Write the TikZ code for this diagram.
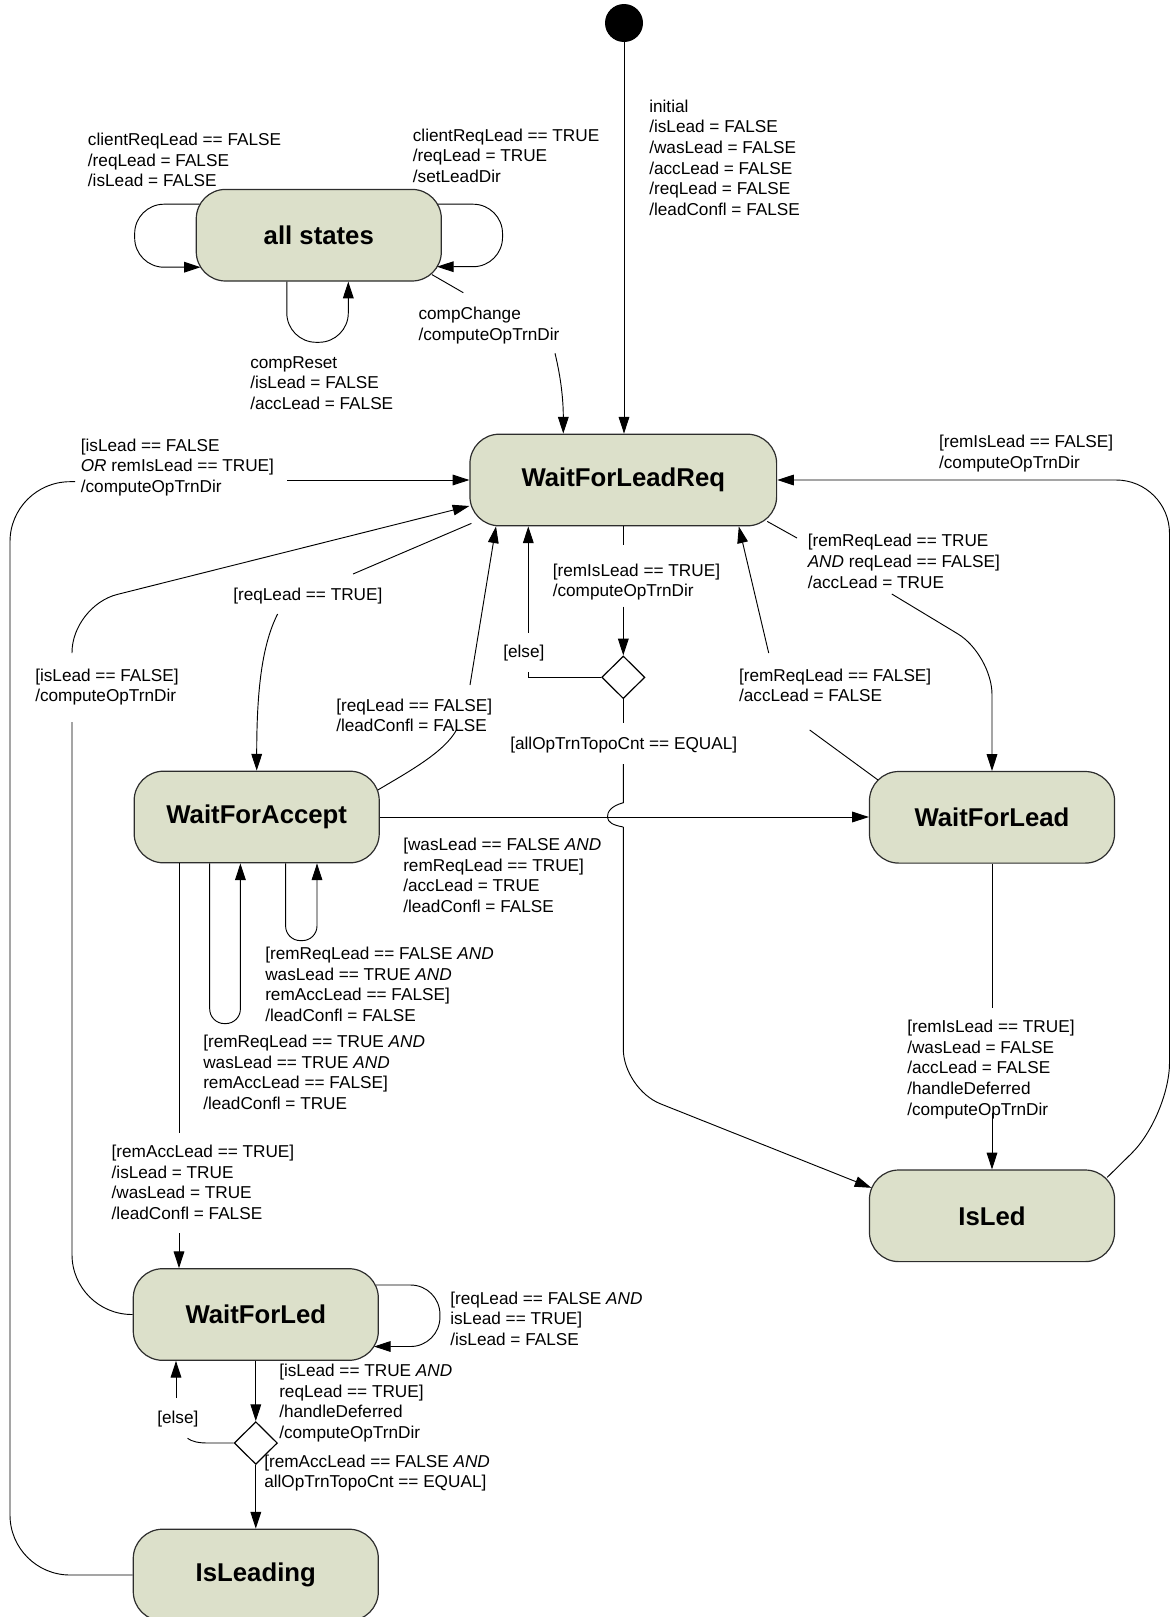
\documentclass[tikz,border=0pt]{standalone}
\usepackage{fontspec}
\setmainfont{Liberation Sans}
\usetikzlibrary{shapes.geometric, arrows.meta, positioning, calc}
\definecolor{statefill}{RGB}{220,224,202}
\definecolor{edgegray}{RGB}{45,45,45}

\begin{document}
\begin{tikzpicture}[
    x=0.75pt, y=-0.75pt,
    % Styles for the states
    state/.style={rectangle, rounded corners=22pt, draw=edgegray, fill=statefill, line width=0.9pt, minimum width=183.8pt, minimum height=68.7pt, inner sep=0pt, font=\fontsize{19.3}{23}\selectfont\bfseries},
    widestate/.style={state, minimum width=230pt},
    choice/.style={diamond, draw=black, fill=white, line width=0.9pt, minimum width=32.4pt, minimum height=32pt, inner sep=0pt},
    startdot/.style={circle, fill=black, minimum size=28.5pt, inner sep=0pt},
    % Styles for the connectors
    link/.style={line width=0.7pt, draw=black},
    trans/.style={link, -{Triangle[length=12.5pt, width=8pt]}},
    % Styles for the text
    guard/.style={anchor=north west, inner sep=0pt, align=left, font=\fontsize{12.9}{15.45}\selectfont}
]
\useasboundingbox (0,0) rectangle (1171,1617);

% === STATES ===
\node[startdot] (start) at (624,23) {};
\node[state] (allst) at (318.8,235.2) {all states};
\node[widestate] (wflr) at (623.3,480) {WaitForLeadReq};
\node[state] (wfacc) at (256.7,817) {WaitForAccept};
\node[state] (wflead) at (992,817.3) {WaitForLead};
\node[state] (isled) at (992,1215.8) {IsLed};
\node[state] (wfled) at (255.8,1314.5) {WaitForLed};
\node[state] (isleading) at (255.8,1575) {IsLeading};
\node[choice] (chk1) at (623.3,677.3) {};
\node[choice] (chk2) at (255.8,1443) {};

% === TRANSITION LABELS ===
\node[guard] (lblinit) at (649,99.5) {initial\\/isLead = FALSE\\/wasLead = FALSE\\/accLead = FALSE\\/reqLead = FALSE\\/leadConfl = FALSE};
\node[guard] (lblcrf) at (87.7,132.8) {clientReqLead == FALSE\\/reqLead = FALSE\\/isLead = FALSE};
\node[guard] (lblcrt) at (412.6,128.5) {clientReqLead == TRUE\\/reqLead = TRUE\\/setLeadDir};
\node[guard] (lblreset) at (250,356.2) {compReset\\/isLead = FALSE\\/accLead = FALSE};
\node[guard] (lblchange) at (418.3,306.8) {compChange\\/computeOpTrnDir};
\node[guard] (lblback) at (80.6,438.5) {[isLead == FALSE\\\textit{OR} remIsLead == TRUE]\\/computeOpTrnDir};
\node[guard] (lblremf) at (938.8,435.2) {[remIsLead == FALSE]\\/computeOpTrnDir};
\node[guard] (lblreqt) at (233,587.5) {[reqLead == TRUE]};
\node[guard] (lblislf) at (35,668.5) {[isLead == FALSE]\\/computeOpTrnDir};
\node[guard] (lblreqf) at (336,698.5) {[reqLead == FALSE]\\/leadConfl = FALSE};
\node[guard] (lblelse) at (503,645.2) {[else]};
\node[guard] (lblremt) at (552.5,563.5) {[remIsLead == TRUE]\\/computeOpTrnDir};
\node[guard] (lblequal) at (510,736.8) {[allOpTrnTopoCnt == EQUAL]};
\node[guard] (lblacc) at (807.5,534.2) {[remReqLead == TRUE\\\textit{AND} reqLead == FALSE]\\/accLead = TRUE};
\node[guard] (lblaccf) at (738.8,668.5) {[remReqLead == FALSE]\\/accLead = FALSE};
\node[guard] (lblwas) at (403,838) {[wasLead == FALSE \textit{AND}\\remReqLead == TRUE]\\/accLead = TRUE\\/leadConfl = FALSE};
\node[guard] (lblconff) at (265,947) {[remReqLead == FALSE \textit{AND}\\wasLead == TRUE \textit{AND}\\remAccLead == FALSE]\\/leadConfl = FALSE};
\node[guard] (lblconft) at (203,1034.7) {[remReqLead == TRUE \textit{AND}\\wasLead == TRUE \textit{AND}\\remAccLead == FALSE]\\/leadConfl = TRUE};
\node[guard] (lblremacc) at (111.4,1145) {[remAccLead == TRUE]\\/isLead = TRUE\\/wasLead = TRUE\\/leadConfl = FALSE};
\node[guard] (lblled) at (907,1020) {[remIsLead == TRUE]\\/wasLead = FALSE\\/accLead = FALSE\\/handleDeferred\\/computeOpTrnDir};
\node[guard] (lblkeep) at (450,1291.5) {[reqLead == FALSE \textit{AND}\\isLead == TRUE]\\/isLead = FALSE};
\node[guard] (lbldefer) at (279,1364) {[isLead == TRUE \textit{AND}\\reqLead == TRUE]\\/handleDeferred\\/computeOpTrnDir};
\node[guard] (lblelse2) at (157,1411) {[else]};
\node[guard] (lbllead) at (264,1454.5) {[remAccLead == FALSE \textit{AND}\\allOpTrnTopoCnt == EQUAL]};

% === BREAK POINTS OF THE CONNECTORS ===
\coordinate (cc1) at (463.3,292.7);
\coordinate (cc2) at (555,353.3);
\coordinate (bk1) at (75,481.7);
\coordinate (bk2) at (287,480);
\coordinate (rq1) at (353,574);
\coordinate (rq2) at (277.6,614);
\coordinate (il1) at (72,722);
\coordinate (il2) at (72,653);
\coordinate (rf1) at (457,729);
\coordinate (rf2) at (470,685);
\coordinate (el1) at (528.3,671.7);
\coordinate (el2) at (528.3,632.7);
\coordinate (ri1) at (623.3,545);
\coordinate (ri2) at (623.3,606.7);
\coordinate (eq1) at (623.3,723);
\coordinate (eq2) at (623.3,764);
\coordinate (hop1) at (623.3,802.7);
\coordinate (hop2) at (623.3,827);
\coordinate (ac1) at (797,538);
\coordinate (ac2) at (891.8,594);
\coordinate (af1) at (809.7,730);
\coordinate (af2) at (768.7,653);
\coordinate (ra1) at (179,1133);
\coordinate (ra2) at (179,1233);
\coordinate (ld1) at (992,1008);
\coordinate (ld2) at (992,1113);
\coordinate (es1) at (187.5,1438.3);
\coordinate (es2) at (176,1398);

% === ALL STATES ===
\draw[trans] (start) -- (start |- wflr.north);
\draw[trans, rounded corners=22pt] ($(allst.west)+(4,-31)$) -| ($(allst.west)+(-61,32)$) -- ($(allst.west)+(5,32)$);
\draw[trans, rounded corners=22pt] ($(allst.east)+(-4,-31)$) -| ($(allst.east)+(60.6,31.5)$) -- ($(allst.east)+(-5,31.5)$);
\draw[trans, rounded corners=22pt] ($(allst.south)+(-32,0)$) |- ($(allst.south)+(29.5,60.7)$) -- ($(allst.south)+(29.5,0)$);
\draw[link] ($(allst.south east)+(-10,-7)$) -- (cc1);
\draw[trans] (cc2) .. controls (561,378) and (563.3,400) .. ($(wflr.north)+(-60,0)$);

% === INTO WaitForLeadReq ===
\draw[link, rounded corners=45pt] (isleading.west) -| (10,481.7) -- (bk1);
\draw[trans] (bk2) -- (wflr.west);
\draw[trans, rounded corners=40pt] ($(isled.north east)+(-8,8)$) -- (1169.5,1116) -- (1169.5,480) -- (wflr.east);
\draw[link, rounded corners=45pt] (wfled.west) -| (il1);
\draw[trans, rounded corners=35pt] (il2) -- (72,605.8) -- ($(wflr.west)+(0,26)$);
\draw[link] ($(wfacc.east)+(-2,-27)$) .. controls (408,772) and (445,752) .. (rf1);
\draw[trans] (rf2) -- ($(wflr.south)+(-127.3,0)$);
\draw[link] (chk1.west) -| (el1);
\draw[trans] (el2) -- (el2 |- wflr.south);
\draw[link] ($(wflead.north west)+(9,9)$) -- (af1);
\draw[trans] (af2) -- ($(wflr.south)+(115.5,0)$);

% === OUT OF WaitForLeadReq ===
\draw[link] ($(wflr.south west)+(2,-3)$) -- (rq1);
\draw[trans] (rq2) .. controls (262,645) and (256.7,690) .. (wfacc.north);
\draw[link] (wflr.south) -- (ri1);
\draw[trans] (ri2) -- (chk1.north);
\draw[link] (chk1.south) -- (eq1);
\draw[link] (eq2) -- (hop1) .. controls (611,806) and (607,812) .. (607.5,817.3) .. controls (608,822) and (612,825) .. (hop2);
\draw[trans, rounded corners=30pt] (hop2) -- (623.3,1089) -- ($(isled.west)+(2.5,-28)$);
\draw[link] ($(wflr.south east)+(-10,-5)$) -- (ac1);
\draw[trans, rounded corners=30pt] (ac2) -- (992,654.5) -- (wflead.north);

% === WaitForAccept ===
\draw[trans] (wfacc.east) -- (wfacc.east -| wflead.west);
\draw[trans, rounded corners=11pt] ($(wfacc.south)+(-47,0)$) |- ($(wfacc.south)+(-16.3,160.2)$) -- ($(wfacc.south)+(-16.3,0)$);
\draw[trans, rounded corners=11pt] ($(wfacc.south)+(28.9,0)$) |- ($(wfacc.south)+(60.3,77.2)$) -- ($(wfacc.south)+(60.3,0)$);
\draw[link] ($(wfacc.south)+(-77.7,0)$) -- (ra1);
\draw[trans] (ra2) -- (ra2 |- wfled.north);

% === WaitForLead ===
\draw[link] (wflead.south) -- (ld1);
\draw[trans] (ld2) -- (isled.north);

% === WaitForLed ===
\draw[trans, rounded corners=22pt] ($(wfled.east)+(-3,-29.5)$) -| ($(wfled.east)+(61,32)$) -- ($(wfled.east)+(-5,32)$);
\draw[trans] (wfled.south) -- (chk2.north);
\draw[link] (chk2.west) -- (208,1443) .. controls (198,1443) and (192,1441.5) .. (es1);
\draw[trans] (es2) -- (es2 |- wfled.south);
\draw[trans] (chk2.south) -- (isleading.north);

\end{tikzpicture}
\end{document}
